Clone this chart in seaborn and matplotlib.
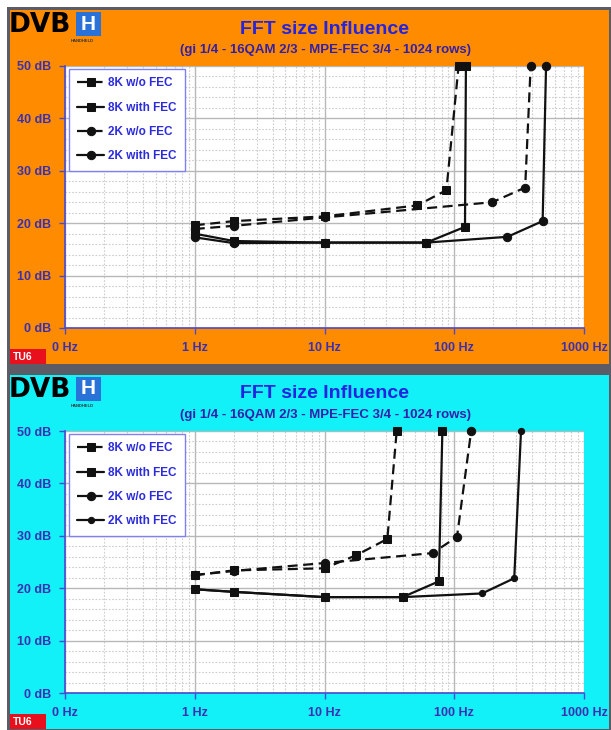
import pandas as pd
import matplotlib
matplotlib.use("Agg")
import matplotlib.pyplot as plt
import seaborn as sns
from matplotlib.patches import Rectangle
from matplotlib.ticker import FixedLocator, NullFormatter

# Series names / legend labels
series_names = ["8K w/o FEC", "8K with FEC", "2K w/o FEC", "2K with FEC"]

# Axis tick labels
x_ticks = [0.1, 1, 10, 100, 1000]
x_labels = ["0 Hz", "1 Hz", "10 Hz", "100 Hz", "1000 Hz"]
y_ticks = [0, 10, 20, 30, 40, 50]
y_labels = ["0 dB", "10 dB", "20 dB", "30 dB", "40 dB", "50 dB"]

# Top chart (orange) - Doppler frequency (Hz) vs required C/N (dB)
top_freq_8k_nofec = [1, 2, 10, 52, 87, 108]
top_cn_8k_nofec = [19.6, 20.4, 21.3, 23.4, 26.3, 50]
top_freq_8k_fec = [1, 2, 10, 61, 121, 123]
top_cn_8k_fec = [18.0, 16.6, 16.3, 16.3, 19.3, 50]
top_freq_2k_nofec = [1, 2, 10, 196, 352, 388]
top_cn_2k_nofec = [18.9, 19.5, 21.1, 24.0, 26.8, 50]
top_freq_2k_fec = [1, 2, 10, 61, 257, 480, 510]
top_cn_2k_fec = [17.3, 16.2, 16.3, 16.3, 17.4, 20.4, 50]

# Bottom chart (cyan)
bot_freq_8k_nofec = [1, 2, 10, 17.6, 30.5, 36]
bot_cn_8k_nofec = [22.5, 23.4, 23.8, 26.3, 29.4, 50]
bot_freq_8k_fec = [1, 2, 10, 40, 76, 81]
bot_cn_8k_fec = [19.8, 19.3, 18.3, 18.3, 21.3, 50]
bot_freq_2k_nofec = [1, 2, 10, 68, 105, 135]
bot_cn_2k_nofec = [22.5, 23.3, 24.8, 26.7, 29.8, 50]
bot_freq_2k_fec = [1, 2, 10, 40, 164, 290, 327]
bot_cn_2k_fec = [19.8, 19.3, 18.3, 18.3, 19.0, 21.9, 50]

W, H = 611, 730
TITLE_BLUE = "#2323e0"
SUB_BLUE = "#3320a8"
TICK_BLUE = "#3a30b0"
AXIS_BLUE = "#4a4ad0"

sns.set_style("white")
plt.rcParams["font.family"] = ["Liberation Sans", "DejaVu Sans"]
plt.rcParams["font.weight"] = "bold"


def fx(px):
    return px / W


def fy(py):
    return 1 - py / H


def build_df(f1, c1, f2, c2, f3, c3, f4, c4):
    rows = []
    for name, fr, cn in zip(series_names, [f1, f2, f3, f4], [c1, c2, c3, c4]):
        for f, c in zip(fr, cn):
            rows.append({"series": name, "freq": f, "cn": c})
    return pd.DataFrame(rows)


top_df = build_df(top_freq_8k_nofec, top_cn_8k_nofec, top_freq_8k_fec, top_cn_8k_fec,
                  top_freq_2k_nofec, top_cn_2k_nofec, top_freq_2k_fec, top_cn_2k_fec)
bot_df = build_df(bot_freq_8k_nofec, bot_cn_8k_nofec, bot_freq_8k_fec, bot_cn_8k_fec,
                  bot_freq_2k_nofec, bot_cn_2k_nofec, bot_freq_2k_fec, bot_cn_2k_fec)

fig = plt.figure(figsize=(W / 100, H / 100), dpi=100)

# gray frame behind both panels
fig.patches.append(Rectangle((fx(7), fy(730)), fx(604), 723 / H, transform=fig.transFigure,
                             facecolor="#5c5c66", edgecolor="none", zorder=-5))


def draw_panel(off, bg, df, small_last=False):
    # panel background
    fig.patches.append(Rectangle((fx(10), fy(off + 364)), fx(599), 354 / H, transform=fig.transFigure,
                                 facecolor=bg, edgecolor="none", zorder=-4))
    # red TU6 tag
    tag_top = off + 349
    fig.patches.append(Rectangle((fx(10), fy(tag_top + 15)), fx(36), 15 / H, transform=fig.transFigure,
                                 facecolor="#e8101c", edgecolor="none", zorder=-3))
    fig.text(fx(13), fy(tag_top + 8), "TU6", color="white", fontsize=7.5, fontweight="bold",
             va="center", ha="left")

    # DVB-H logo
    fig.text(fx(9), fy(off + 25), "DVB", color="black", fontsize=19, fontweight="bold",
             va="center", ha="left", family="DejaVu Sans")
    fig.patches.append(Rectangle((fx(76), fy(off + 36)), fx(25), 24 / H, transform=fig.transFigure,
                                 facecolor="#2a72d8", edgecolor="none", zorder=-3))
    fig.text(fx(88.5), fy(off + 24), "H", color="white", fontsize=15, fontweight="bold",
             va="center", ha="center")
    fig.text(fx(82), fy(off + 41), "HANDHELD", color="#333333", fontsize=3, fontweight="bold",
             va="center", ha="center")

    # titles
    fig.text(fx(325), fy(off + 29), "FFT size Influence", color=TITLE_BLUE, fontsize=14,
             fontweight="bold", va="center", ha="center")
    fig.text(fx(325), fy(off + 50), "(gi 1/4 - 16QAM 2/3 - MPE-FEC 3/4 - 1024 rows)",
             color=SUB_BLUE, fontsize=9.5, fontweight="bold", va="center", ha="center")

    top_px = off + 66
    bot_px = off + 328
    ax = fig.add_axes([fx(65), fy(bot_px), fx(519), (bot_px - top_px) / H])
    ax.set_facecolor("white")

    styles = {
        "8K w/o FEC": dict(marker="s", linestyle=(0, (4.5, 2.5)), markersize=5.5),
        "8K with FEC": dict(marker="s", linestyle="-", markersize=5.5),
        "2K w/o FEC": dict(marker="o", linestyle=(0, (4.5, 2.5)), markersize=6),
        "2K with FEC": dict(marker="o", linestyle="-", markersize=4.5 if small_last else 6),
    }
    for name in series_names:
        sub = df[df["series"] == name]
        sns.lineplot(data=sub, x="freq", y="cn", sort=False, estimator=None, color="#111111",
                     linewidth=1.6, markeredgecolor="#111111", markerfacecolor="#111111",
                     label=name, ax=ax, clip_on=False, zorder=5, **styles[name])

    ax.set_xscale("log")
    ax.set_xlim(0.1, 1000)
    ax.set_ylim(0, 50)
    ax.set_xticks(x_ticks)
    ax.set_xticklabels(x_labels)
    minor = [m * 10 ** e for e in range(-1, 3) for m in range(2, 10)]
    ax.xaxis.set_minor_locator(FixedLocator(minor))
    ax.xaxis.set_minor_formatter(NullFormatter())
    ax.set_yticks(y_ticks)
    ax.set_yticklabels(y_labels)
    ax.set_yticks(list(range(2, 50, 2)), minor=True)
    ax.grid(which="major", color="#b8b8b8", linewidth=1.0)
    ax.grid(which="minor", color="#cdcdcd", linewidth=0.8, linestyle=(0, (1.5, 1.5)))
    ax.set_axisbelow(True)
    ax.set_xlabel("")
    ax.set_ylabel("")
    ax.tick_params(which="minor", length=0)
    ax.tick_params(which="major", length=4, width=1, color=AXIS_BLUE, labelcolor=TICK_BLUE,
                   labelsize=9, direction="out")
    ax.tick_params(axis="x", pad=6)
    ax.tick_params(axis="y", pad=6)
    ax.tick_params(bottom=True, left=True)
    for s in ["top", "right"]:
        ax.spines[s].set_visible(False)
    for s in ["left", "bottom"]:
        ax.spines[s].set_color(AXIS_BLUE)
        ax.spines[s].set_linewidth(1.2)

    handles, labels = ax.get_legend_handles_labels()
    leg = ax.legend(handles, labels, loc="upper left", bbox_to_anchor=(4 / 519, 1 - 3 / (bot_px - top_px)),
                    borderaxespad=0, frameon=True, fancybox=False, labelcolor="#2b2bdc",
                    prop={"weight": "bold", "size": 8.5}, handlelength=2.3, handletextpad=0.3,
                    labelspacing=1.05, borderpad=0.7)
    leg.set_zorder(10)
    leg.get_frame().set_edgecolor("#8080f0")
    leg.get_frame().set_linewidth(1.0)
    leg.get_frame().set_facecolor("white")
    leg.get_frame().set_alpha(1)
    return ax


draw_panel(0, "#ff8c00", top_df)
draw_panel(365, "#12f0f8", bot_df, small_last=True)

fig.savefig("out.png", dpi=100)
